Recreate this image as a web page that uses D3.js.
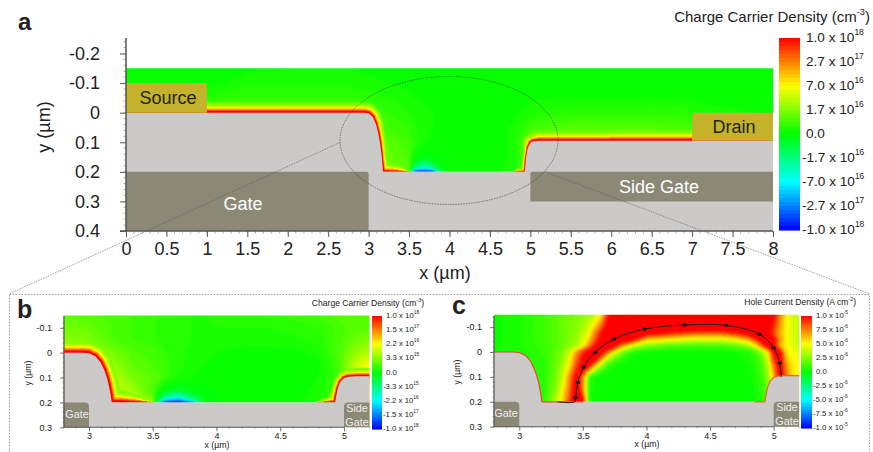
<!DOCTYPE html>
<html><head><meta charset="utf-8">
<script src="https://cdn.jsdelivr.net/npm/d3@7/dist/d3.min.js"></script>
<style>html,body{margin:0;padding:0;background:#fff}svg{display:block}text{font-family:"Liberation Sans",Arial,sans-serif;fill:#222}</style>
</head><body><svg id="c" width="873" height="452"></svg>
<script>
// ---------- data (field values are percent of colour-bar half range) ----------
const colorDomain=[-1,-.75,-.5,-.25,0,.25,.5,.75,1];
const colorRange=['#0000ff','#0080ff','#00ffff','#00ff80','#00ff00','#80ff00','#ffff00','#ff8000','#ff0000'];

const surfX=[0,1,2,2.8,2.95,3.0,3.05,3.09,3.12,3.14,3.155,3.17,3.175,3.18,3.25,3.3,3.35,3.4,3.45,3.5,4.8,4.85,4.9,4.93,4.94,4.95,4.97,5.0,5.03,5.1,6,7,8];
const surfY=[0,0,0,0,0,.002,.014,.038,.07,.1,.13,.17,.19,.2,.2,.2,.2,.2,.2,.2,.2,.2,.2,.2,.17,.145,.118,.102,.097,.095,.095,.095,.095];
const glowA=[10,10,10,10,10,9,8,7,6,6,5,5,6,8,8,7,6,4,2,0,0,2.5,4,4,3.5,3.5,4,6,8,9,10,10,10];
const glowB=[12,12,12,12,12,12,11,11,10,10,10,10,10,13,12,10,8,5,2.5,0,0,3,6,7,6,6,6,7,8,8,9,9,9];

const aX=[0,1,1.25,1.5,2,2.5,2.75,3,3.25,3.5,3.55,3.6,3.7,3.8,3.9,4,4.5,4.8,5,5.25,5.5,6,6.5,6.9,7,8];
const aY=[-.15,-.1,-.05,0,.05,.1,.15,.18,.19,.2];
const aField=[
[0,0,1,2,3,3,3,2,2,1,1,1,1,0,0,0,0,0,0,1,1,1,1,0,0,0],
[1,1,3,5,5,5,5,4,3,2,2,2,1,1,1,0,0,0,0,1,2,2,2,1,1,0],
[2,6,8,9,9,9,9,8,6,4,3,3,2,2,1,1,0,1,2,3,3,3,3,3,2,1],
[20,28,28,28,28,28,26,18,9,6,5,5,4,3,2,1,0,2,5,7,8,8,8,8,6,2],
[20,28,28,28,28,28,26,20,12,9,7,6,4,3,2,1,0,4,12,14,16,16,16,14,12,4],
[20,28,28,28,28,28,26,22,17,13,9,6,3,2,1,1,0,4,25,25,25,25,25,25,25,25],
[20,28,28,28,28,28,26,24,20,14,3,0,-2,-1,0,0,0,4,20,25,25,25,25,25,25,25],
[20,28,28,28,28,28,26,24,22,16,-8,-22,-35,-18,-2,0,0,5,20,25,25,25,25,25,25,25],
[20,28,28,28,28,28,26,26,24,18,-30,-50,-55,-40,-5,0,0,6,20,25,25,25,25,25,25,25],
[20,28,28,28,28,28,26,28,26,20,-80,-110,-120,-100,-12,0,0,8,20,25,25,25,25,25,25,25]];

const bX=[2.8,3,3.2,3.35,3.5,3.55,3.6,3.7,3.8,3.9,4,4.2,4.4,4.6,4.8,4.95,5.1,5.2];
const bY=[-.15,-.1,-.05,0,.05,.1,.15,.175,.19,.2];
const bField=[
[18,16,14,12,10,9,8,7,6,6,7,8,9,10,12,16,18,18],
[22,20,14,11,9,8,7,7,6,6,6,6,6,7,9,13,17,17],
[26,24,15,12,11,9,8,7,6,5,5,4,4,5,7,13,22,25],
[48,42,22,16,13,11,9,7,5,4,3,2,2,2,4,14,30,35],
[48,45,28,18,15,13,10,7,5,3,2,1,1,1,2,12,40,50],
[40,40,35,23,18,15,10,5,3,2,1,1,1,1,3,10,40,50],
[40,40,40,30,14,4,-3,-9,-4,-1,0,1,1,1,4,12,40,50],
[40,40,40,36,18,-6,-26,-40,-18,-2,0,0,1,1,5,14,40,50],
[40,40,40,38,24,-22,-58,-72,-40,-4,0,0,1,1,6,16,40,50],
[40,40,40,40,30,-60,-105,-120,-85,-10,0,0,1,1,8,18,40,50]];

const cX=[2.8,3,3.2,3.3,3.35,3.4,3.45,3.5,3.55,3.6,3.65,3.7,3.75,3.8,3.85,3.9,4,4.2,4.4,4.6,4.7,4.8,4.85,4.9,4.95,5,5.05,5.1,5.15,5.2];
const cY=[-.15,-.1,-.075,-.05,-.025,0,.025,.05,.075,.1,.15,.2];
const cField=[
[2,5,12,18,20,22,25,28,33,40,55,95,110,120,120,120,120,120,120,120,120,120,120,120,115,100,75,50,42,38],
[2,5,12,18,21,23,26,33,42,62,85,105,120,120,120,120,120,120,120,120,120,120,120,120,110,90,68,50,42,38],
[2,5,12,18,21,24,28,36,50,78,100,115,120,120,120,120,105,90,78,80,90,105,120,120,110,85,65,50,42,38],
[2,5,12,18,21,25,30,42,60,85,105,120,120,120,110,95,58,48,42,42,50,65,85,105,120,100,70,50,42,38],
[2,5,11,17,21,26,33,48,75,100,120,120,100,72,55,40,25,15,12,13,18,30,45,75,105,100,65,50,44,38],
[3,4,10,20,28,42,70,90,105,120,105,75,48,28,14,5,2,2,2,2,3,5,12,25,48,100,100,52,48,45],
[4,4,9,20,30,48,78,100,115,110,70,38,20,10,5,2,2,1,1,1,2,4,8,18,40,90,105,60,50,47],
[5,5,8,22,35,55,85,105,105,65,35,12,4,2,1,1,1,1,1,1,1,3,6,14,32,78,105,68,52,48],
[6,6,8,23,40,65,95,100,60,28,10,4,2,1,1,1,1,1,1,1,1,2,5,12,28,68,108,72,53,49],
[6,6,8,25,45,75,105,75,8,3,2,2,1,1,1,1,1,1,1,1,1,2,4,10,25,60,110,78,55,50],
[6,6,8,30,55,80,115,70,6,2,1,1,1,1,1,1,1,1,1,1,1,1,3,8,20,50,110,78,55,50],
[6,6,8,40,62,90,120,100,3,2,1,1,1,1,1,1,1,1,1,1,1,1,2,5,15,40,110,78,55,50]];

const streamX=[3.3,3.435,3.443,3.461,3.506,3.598,3.744,3.983,4.30,4.625,4.887,4.999,5.047,5.06];
const streamY=[.2,.2,.183,.121,.061,.001,-.052,-.092,-.108,-.107,-.072,-.017,.044,.1];

const aXTicks=d3.range(0,8.01,.5), aYTicks=[-.2,-.1,0,.1,.2,.3,.4];
const zXTicks=[3,3.5,4,4.5,5], zYTicks=[-.1,0,.1,.2,.3];
const carrierA=[['1.0 x 10','18'],['2.7 x 10','17'],['7.0 x 10','16'],['1.7 x 10','16'],['0.0',''],['-1.7 x 10','16'],['-7.0 x 10','16'],['-2.7 x 10','17'],['-1.0 x 10','18']];
const carrierB=[['1.0 x 10','18'],['1.5 x 10','17'],['2.2 x 10','16'],['3.3 x 10','15'],['0.0',''],['-3.3 x 10','15'],['-2.2 x 10','16'],['-1.5 x 10','17'],['-1.0 x 10','18']];
const holeC=[['1.0 x 10','-5'],['7.5 x 10','-6'],['5.0 x 10','-6'],['2.5 x 10','-6'],['0.0',''],['-2.5 x 10','-6'],['-5.0 x 10','-6'],['-7.5 x 10','-6'],['-1.0 x 10','-5']];

// ---------- drawing ----------
const svg=d3.select('#c');
const defs=svg.append('defs');
defs.append('filter').attr('id','soft').attr('x','-5%').attr('y','-20%').attr('width','110%').attr('height','140%').attr('color-interpolation-filters','sRGB')
  .append('feGaussianBlur').attr('stdDeviation',.6);
defs.append('filter').attr('id','softer').attr('x','-2%').attr('y','-2%').attr('width','104%').attr('height','104%').attr('color-interpolation-filters','sRGB')
  .append('feGaussianBlur').attr('stdDeviation',.8);
const color=d3.scaleLinear().domain(colorDomain).range(colorRange).clamp(true);
const GREY='#ccc9c9',GATE='#8b8976',METAL='#c4b32a',AXIS='#555';
const glowLevels=[.25,.35,.5,.62,.75,.88,1], glowFrac=[1,.75,.55,.43,.32,.24,.17];

function label(g,x,y,pair,size,negShift){
  const neg=pair[0][0]==='-';
  const t=g.append('text').attr('x',x-(neg?negShift:0)).attr('y',y).attr('font-size',size).attr('dominant-baseline','middle');
  t.append('tspan').text(pair[0]);
  if(pair[1]) t.append('tspan').attr('dy',-size*.38).attr('font-size',size*.62).text(pair[1]);
}
function colorBar(g,x0,x1,y0,y1,labels,lx,size,negShift,title,tx,ty,tsize){
  const s=d3.scaleLinear().domain([1,-1]).range([y0,y1]);
  const n=48, steps=d3.range(n);
  g.selectAll('rect.cb').data(steps).join('rect').attr('class','cb').attr('x',x0).attr('width',x1-x0)
    .attr('y',i=>s(1-2*i/n)).attr('height',(y1-y0)/n+.6).attr('fill',i=>color(1-2*(i+.5)/n));
  labels.forEach((p,i)=>label(g,lx,s(1-i/4),p,size,negShift));
  const t=g.append('text').attr('x',tx).attr('y',ty).attr('font-size',tsize).attr('text-anchor','end').attr('dominant-baseline','middle');
  const m=title.match(/^(.*)\^(-?\d)(\))$/);
  t.append('tspan').text(m[1]); t.append('tspan').attr('dy',-tsize*.35).attr('font-size',tsize*.62).text(m[2]);
  t.append('tspan').attr('dy',tsize*.35).text(m[3]);
}
function field(g,xCols,yRows,vals,x,y,x0,x1,id){
  const cp=defs.append('clipPath').attr('id',id);
  cp.append('rect').attr('x',x(x0)).attr('y',y(yRows[0])).attr('width',x(x1)-x(x0)).attr('height',y(yRows[yRows.length-1])-y(yRows[0]));
  const n=xCols.length,m=yRows.length,flat=[];
  for(let j=-1;j<=m;j++)for(let i=-1;i<=n;i++){
    const r=vals[Math.max(0,Math.min(m-1,j))];
    flat.push(r[Math.max(0,Math.min(n-1,i))]/100);
  }
  const fx=d3.scaleLinear().domain(d3.range(n)).range(xCols.map(x));
  const fy=d3.scaleLinear().domain(d3.range(m)).range(yRows.map(y));
  const th=d3.range(-1.02,1.02,.03);
  const cont=d3.contours().size([n+2,m+2]).thresholds(th)(flat);
  const path=d3.geoPath(d3.geoTransform({point(a,b){this.stream.point(fx(a-1.5),fy(b-1.5));}}));
  const gg=g.append('g').attr('clip-path',`url(#${id})`);
  const inner=gg.append('g').attr('filter','url(#softer)');
  inner.append('rect').attr('x',x(x0)-5).attr('y',y(yRows[0])-5).attr('width',x(x1)-x(x0)+10).attr('height',y(yRows[m-1])-y(yRows[0])+10).attr('fill',color(-1));
  inner.selectAll('path').data(cont).join('path').attr('d',path).attr('fill',d=>color(d.value+.015)).attr('stroke',d=>color(d.value+.015)).attr('stroke-width',.4);
  return gg;
}
function glow(gg,x,y,g0){
  const seg=gg.append('g').attr('filter','url(#soft)').attr('fill','none').attr('stroke-linecap','round');
  glowLevels.forEach((lv,k)=>{
    const idx=d3.range(surfX.length-1).filter(i=>g0[i]+g0[i+1]>0);
    seg.append('g').attr('stroke',color(lv)).selectAll('line').data(idx).join('line')
      .attr('x1',i=>x(surfX[i])).attr('y1',i=>y(surfY[i])).attr('x2',i=>x(surfX[i+1])).attr('y2',i=>y(surfY[i+1]))
      .attr('stroke-width',i=>(g0[i]+g0[i+1])*glowFrac[k]);
  });
}
function device(g,x,y,xmin,xmax,ybot){
  const pts=surfX.map((v,i)=>[v,surfY[i]]).filter(p=>p[0]>=xmin&&p[0]<=xmax);
  if(pts[pts.length-1][0]<xmax) pts.push([xmax,surfY[surfY.length-1]]);
  const poly=[...pts,[xmax,ybot],[xmin,ybot]].map(p=>[x(p[0]),y(p[1])]);
  g.append('path').attr('d',d3.line()(poly)+'Z').attr('fill',GREY);
}
function block(g,px0,py0,px1,py1,fill,r,corner){
  const rr=r;let d;
  if(corner==='tr') d=`M${px0},${py0}H${px1-rr}Q${px1},${py0} ${px1},${py0+rr}V${py1}H${px0}Z`;
  else d=`M${px0+rr},${py0}H${px1}V${py1}H${px0}V${py0+rr}Q${px0},${py0} ${px0+rr},${py0}Z`;
  g.append('path').attr('d',d).attr('fill',fill);
}
function axes(g,x,y,xTicks,yTicks,xFmt,yFmt,fs,xMinor,yMinor,major,minor,bottom,left,topY,sw,padX,padY,ext){
  const ax=d3.axisBottom(x).tickValues(xTicks).tickFormat(xFmt).tickSize(major).tickPadding(padX);
  const ay=d3.axisLeft(y).tickValues(yTicks).tickFormat(yFmt).tickSize(major).tickPadding(padY);
  const gx=g.append('g').attr('transform',`translate(0,${bottom})`).call(ax);
  const gy=g.append('g').attr('transform',`translate(${left},0)`).call(ay);
  [gx,gy].forEach(a=>{a.selectAll('path.domain').remove();a.selectAll('line').attr('stroke',AXIS).attr('stroke-width',sw);
    a.selectAll('text').attr('font-size',fs).attr('fill','#222').attr('font-family','"Liberation Sans"');});
  g.append('g').selectAll('line').data(xMinor).join('line').attr('x1',d=>x(d)).attr('x2',d=>x(d)).attr('y1',bottom).attr('y2',bottom+minor).attr('stroke','#888').attr('stroke-width',.7);
  g.append('g').selectAll('line').data(yMinor).join('line').attr('y1',d=>y(d)).attr('y2',d=>y(d)).attr('x1',left).attr('x2',left-minor).attr('stroke','#888').attr('stroke-width',.7);
  g.append('line').attr('x1',left-ext).attr('x2',x.range()[1]).attr('y1',bottom).attr('y2',bottom).attr('stroke',AXIS).attr('stroke-width',sw*1.3);
  g.append('line').attr('x1',left).attr('x2',left).attr('y1',topY).attr('y2',bottom).attr('stroke',AXIS).attr('stroke-width',sw*1.5);
}
const fmt=d=>String(+d.toFixed(1));

// overlay frame
svg.append('rect').attr('x',9.5).attr('y',294.5).attr('width',860).attr('height',170).attr('fill','none').attr('stroke','#999').attr('stroke-width',.9).attr('stroke-dasharray','1.6 1.4');

const middle=(sel)=>sel.attr('text-anchor','middle').attr('dominant-baseline','middle');
// ---- panel a
{
  const g=svg.append('g');
  const x=d3.scaleLinear().domain([0,8]).range([126,773]);
  const y=d3.scaleLinear().domain([-.2,.4]).range([53.5,231]);
  const gg=field(g,aX,aY,aField,x,y,0,8,'clipA');
  glow(gg,x,y,glowA);
  device(g,x,y,0,8,.4);
  block(g,x(0),y(-.1),x(1),y(0),METAL,2,'tr');
  block(g,x(7),y(0),x(8),y(.095),METAL,3,'tl');
  block(g,x(0),y(.2),x(3),y(.4),GATE,2,'tr');
  block(g,x(5),y(.2),x(8),y(.3),GATE,2,'tl');
  middle(g.append('text').attr('x',168).attr('y',99).attr('font-size',18)).text('Source');
  middle(g.append('text').attr('x',734).attr('y',128).attr('font-size',18)).text('Drain');
  middle(g.append('text').attr('x',243).attr('y',205).attr('font-size',18)).style('fill','#fff').text('Gate');
  middle(g.append('text').attr('x',659).attr('y',188).attr('font-size',18)).style('fill','#fff').text('Side Gate');
  axes(g,x,y,aXTicks,aYTicks,fmt,fmt,18,d3.range(0,8.01,.1),d3.range(-.24,.401,.02),6,2.5,231,126,38,1,5,20,6);
  middle(g.append('text').attr('x',445).attr('y',274).attr('font-size',18)).text('x (µm)');
  middle(g.append('text').attr('transform','translate(45,127) rotate(-90)').attr('font-size',18)).text('y (µm)');
  colorBar(g,779,800,38,230,carrierA,806,13.6,4,'Charge Carrier Density (cm^-3)',870,18,15);
  g.append('text').attr('x',18).attr('y',30).attr('font-size',24).attr('font-weight','bold').text('a');
}
// ---- panel b
{
  const g=svg.append('g');
  const x=d3.scaleLinear().domain([3,5]).range([89,344]);
  const y=d3.scaleLinear().domain([0,.3]).range([352.7,427.3]);
  const gg=field(g,bX,bY,bField,x,y,2.8,5.2,'clipB');
  glow(gg,x,y,glowB);
  device(g,x,y,2.8,5.2,.3);
  block(g,x(2.8),y(.2),x(3),y(.3),GATE,4,'tr');
  block(g,x(5),y(.2),x(5.2),y(.3),GATE,4,'tl');
  middle(g.append('text').attr('x',77).attr('y',415).attr('font-size',10.8)).style('fill','#eee').text('Gate');
  middle(g.append('text').attr('x',357).attr('y',409).attr('font-size',10.8)).style('fill','#eee').text('Side');
  middle(g.append('text').attr('x',357).attr('y',423).attr('font-size',10.8)).style('fill','#eee').text('Gate');
  axes(g,x,y,zXTicks,zYTicks,fmt,fmt,9,d3.range(2.8,5.21,.1),d3.range(-.14,.301,.02),4,1.5,427.3,64,316,.8,1.5,8,0);
  middle(g.append('text').attr('x',217).attr('y',445.5).attr('font-size',8.8)).text('x (µm)');
  middle(g.append('text').attr('transform','translate(29,373) rotate(-90)').attr('font-size',8.8)).text('y (µm)');
  colorBar(g,372,382,316,429,carrierB,386,7.8,3,'Charge Carrier Density (cm^-3)',424,304,8.6);
  g.append('text').attr('x',17).attr('y',318).attr('font-size',25).attr('font-weight','bold').text('b');
}
// ---- panel c
{
  const g=svg.append('g');
  const x=d3.scaleLinear().domain([3,5]).range([519.3,773.7]);
  const y=d3.scaleLinear().domain([0,.3]).range([352,426.7]);
  field(g,cX,cY,cField,x,y,2.8,5.2,'clipC');
  device(g,x,y,2.8,5.2,.3);
  const sel=(a,b)=>surfX.map((v,i)=>[v,surfY[i]]).filter(p=>p[0]>=a&&p[0]<=b).map(p=>[x(p[0]),y(p[1])]);
  g.append('path').attr('d',d3.line()(sel(2.8,3.5))).attr('fill','none').attr('stroke','#e8452a').attr('stroke-width',1.2);
  g.append('path').attr('d',d3.line()([...sel(4.85,5.1),[x(5.2),y(.095)]])).attr('fill','none').attr('stroke','#e8652a').attr('stroke-width',1.2);
  block(g,x(2.8),y(.2),x(3),y(.3),GATE,4,'tr');
  block(g,x(5),y(.2),x(5.2),y(.3),GATE,4,'tl');
  middle(g.append('text').attr('x',506).attr('y',414).attr('font-size',10.8)).style('fill','#eee').text('Gate');
  middle(g.append('text').attr('x',787).attr('y',408).attr('font-size',10.8)).style('fill','#eee').text('Side');
  middle(g.append('text').attr('x',787).attr('y',422).attr('font-size',10.8)).style('fill','#eee').text('Gate');
  const pts=streamX.map((v,i)=>[x(v),y(streamY[i])]);
  g.append('path').attr('d',d3.line().curve(d3.curveCatmullRom)(pts)).attr('fill','none').attr('stroke','#111').attr('stroke-width',.9);
  g.append('g').selectAll('ellipse').data(pts.slice(2,-1)).join('ellipse').attr('cx',d=>d[0]).attr('cy',d=>d[1]).attr('rx',2.2).attr('ry',1.6).attr('fill','#111');
  axes(g,x,y,zXTicks,zYTicks,fmt,fmt,9,d3.range(2.8,5.21,.1),d3.range(-.14,.301,.02),4,1.5,426.7,494,316,.8,1.5,8,0);
  middle(g.append('text').attr('x',647).attr('y',445).attr('font-size',8.8)).text('x (µm)');
  middle(g.append('text').attr('transform','translate(458,372) rotate(-90)').attr('font-size',8.8)).text('y (µm)');
  colorBar(g,801,812,316,428,holeC,816,7.8,3,'Hole Current Density (A cm^-2)',856,303,8.6);
  g.append('text').attr('x',452).attr('y',314).attr('font-size',25).attr('font-weight','bold').text('c');
}
// zoom guides
const guides=svg.append('g').attr('fill','none').attr('stroke','#333').attr('stroke-width',.55).attr('stroke-dasharray','1.6 1');
guides.append('ellipse').attr('cx',449).attr('cy',140.5).attr('rx',109).attr('ry',64);
guides.append('path').attr('d','M340,142.5L9,294').attr('stroke','#555');
guides.append('path').attr('d','M546,172L870,294').attr('stroke','#555');
</script></body></html>
